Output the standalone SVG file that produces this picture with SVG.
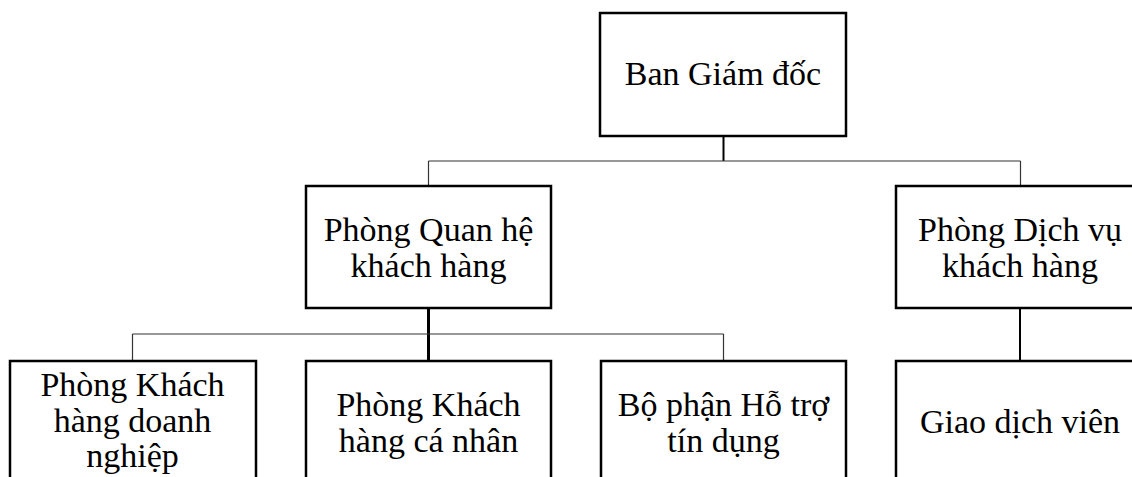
<svg xmlns="http://www.w3.org/2000/svg" width="1132" height="477" viewBox="0 0 1132 477">
<style>
.box{fill:#fff;stroke:#000;stroke-width:2.5}
.t{font-family:"Liberation Serif","Times New Roman",serif;font-size:34px;fill:#000;text-anchor:middle}
.c{stroke:#333;stroke-width:1.2;fill:none}
.ck{stroke:#000;stroke-width:3;fill:none}
.cm{stroke:#000;stroke-width:2;fill:none}
</style>
<rect width="1132" height="477" fill="#fff"/>
<g id="connectors">
<line class="cm" x1="723.5" y1="136" x2="723.5" y2="161"/>
<line class="c" x1="428.5" y1="161" x2="1020.5" y2="161"/>
<line class="c" x1="428.5" y1="161" x2="428.5" y2="186"/>
<line class="c" x1="1020.5" y1="161" x2="1020.5" y2="186"/>
<line class="ck" x1="428.5" y1="308" x2="428.5" y2="361"/>
<line class="c" x1="132.5" y1="334" x2="723.5" y2="334"/>
<line class="c" x1="132.5" y1="334" x2="132.5" y2="361"/>
<line class="c" x1="723.5" y1="334" x2="723.5" y2="361"/>
<line class="cm" x1="1020" y1="308" x2="1020" y2="361"/>
</g>
<g id="ban-giam-doc">
<rect class="box" x="600" y="13" width="246" height="123"/>
<text class="t" x="723" y="85">Ban Giám đốc</text>
</g>
<g id="phong-quan-he">
<rect class="box" x="306" y="186" width="245" height="122"/>
<text class="t" x="428.5" y="241">Phòng Quan hệ</text>
<text class="t" x="428.5" y="277">khách hàng</text>
</g>
<g id="phong-dich-vu">
<rect class="box" x="896" y="186" width="248" height="122"/>
<text class="t" x="1020" y="241">Phòng Dịch vụ</text>
<text class="t" x="1020" y="277">khách hàng</text>
</g>
<g id="phong-kh-doanh-nghiep">
<rect class="box" x="10" y="361" width="246" height="130"/>
<text class="t" x="132.5" y="396">Phòng Khách</text>
<text class="t" x="132.5" y="432">hàng doanh</text>
<text class="t" x="132.5" y="467">nghiệp</text>
</g>
<g id="phong-kh-ca-nhan">
<rect class="box" x="306" y="361" width="245" height="130"/>
<text class="t" x="428.5" y="416">Phòng Khách</text>
<text class="t" x="428.5" y="452">hàng cá nhân</text>
</g>
<g id="bo-phan-ho-tro">
<rect class="box" x="601" y="361" width="245" height="130"/>
<text class="t" x="723.5" y="416">Bộ phận Hỗ trợ</text>
<text class="t" x="723.5" y="452">tín dụng</text>
</g>
<g id="giao-dich-vien">
<rect class="box" x="896" y="361" width="248" height="130"/>
<text class="t" x="1020" y="433">Giao dịch viên</text>
</g>
</svg>
